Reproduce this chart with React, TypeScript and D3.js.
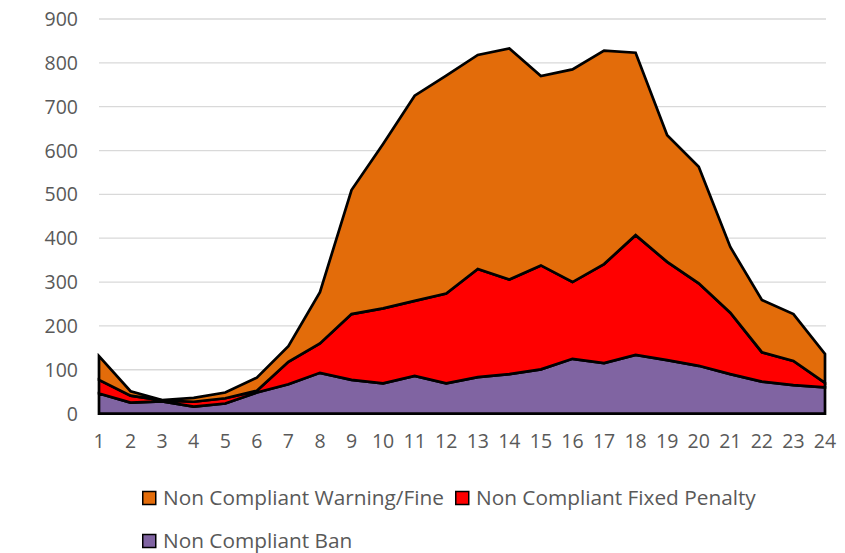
import React from "react";
import * as d3 from "d3";

const hours = d3.range(1, 25);
const banValues = [46,25,28,16,23,48,67,93,77,69,86,69,83,90,101,125,115,134,122,109,90,73,65,60];
const fixedPenaltyValues = [31,16,2,11,12,4,51,67,150,171,171,205,247,216,237,175,226,273,224,188,140,67,55,10];
const warningValues = [54,10,1,9,13,30,36,117,283,375,468,497,488,527,432,485,487,416,289,266,150,119,107,66];
const yTicks = [0,100,200,300,400,500,600,700,800,900];
const seriesNames = ["Non Compliant Ban", "Non Compliant Fixed Penalty", "Non Compliant Warning/Fine"];
const seriesColors = ["#8064A2", "#FF0000", "#E36C0A"];

const W = 845, H = 553;
const FONT = "'Open Sans', sans-serif";

export default function App() {
  const x = d3.scaleLinear().domain([1, 24]).range([99, 825]);
  const y = d3.scaleLinear().domain([0, 900]).range([413.6, 19]);
  const rows = hours.map((h, i) => ({ hour: h, ban: banValues[i], fp: fixedPenaltyValues[i], warn: warningValues[i] }));
  const stack = d3.stack<any>().keys(["ban", "fp", "warn"])(rows);
  const area = d3.area<any>().x((d) => x(d.data.hour)).y0((d) => y(d[0])).y1((d) => y(d[1]));

  const legend = [
    { name: seriesNames[2], color: seriesColors[2], x: 142, y: 498 },
    { name: seriesNames[1], color: seriesColors[1], x: 455, y: 498 },
    { name: seriesNames[0], color: seriesColors[0], x: 142, y: 541 },
  ];

  return (
    <svg width={W} height={H} style={{ position: "absolute", left: 0, top: 0, background: "#fff" }} fontFamily={FONT}>
      {yTicks.map((t) => (
        <g key={t}>
          {t > 0 && <line x1={99} x2={826} y1={y(t)} y2={y(t)} stroke="#d9d9d9" strokeWidth={1.3} />}
          <text x={78} y={y(t)} dy="0.36em" textAnchor="end" fontSize={19.5} fill="#595959">{t}</text>
        </g>
      ))}
      <line x1={99} x2={826} y1={y(0)} y2={y(0)} stroke="#bfbfbf" strokeWidth={1.3} />
      {stack.map((s, i) => (
        <path key={i} d={area(s) || ""} fill={seriesColors[i]} stroke="#000" strokeWidth={2.7} strokeLinejoin="miter" />
      ))}
      {hours.map((h) => (
        <text key={h} x={x(h)} y={441} dy="0.36em" textAnchor="middle" fontSize={19.5} fill="#595959">{h}</text>
      ))}
      {legend.map((l) => (
        <g key={l.name}>
          <rect x={l.x + 0.75} y={l.y - 6.5} width={13} height={13} fill={l.color} stroke="#000" strokeWidth={1.5} />
          <text x={l.x + 21} y={l.y} dy="0.36em" fontSize={20.8} fill="#595959">{l.name}</text>
        </g>
      ))}
    </svg>
  );
}
